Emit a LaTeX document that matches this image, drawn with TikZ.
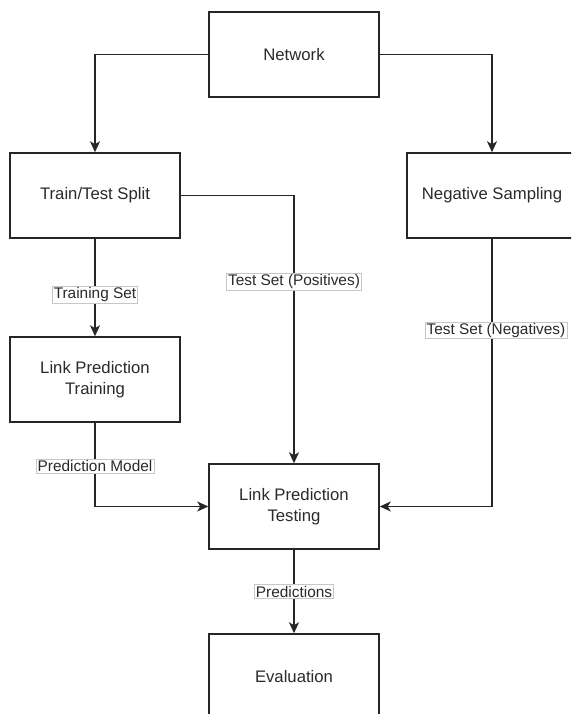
\documentclass[tikz,border=0pt]{standalone}
\usepackage{fontspec}
\setmainfont{Liberation Sans}
\usetikzlibrary{arrows.meta}
\definecolor{linec}{HTML}{262626}
\definecolor{textc}{HTML}{2A2A2A}
\tikzset{
  box/.style={draw=linec, line width=1.5pt, fill=white, minimum width=170pt, minimum height=85pt,
    inner sep=0pt, align=center, text=textc, font=\fontsize{16.7}{21}\selectfont},
  lbl/.style={draw=black!22, line width=0.6pt, fill=white, inner xsep=1.5pt, inner ysep=1.2pt,
    text=textc, font=\fontsize{15.4}{18}\selectfont},
  arr/.style={draw=linec, line width=1.5pt, -{Stealth[length=11pt, width=10pt, inset=3pt]}},
}
\begin{document}
\begin{tikzpicture}[x=1pt, y=-1pt]
\clip (0,0) rectangle (571,714);
\fill[white] (0,0) rectangle (571,714);
\node[box] (net) at (294,54.5) {Network};
\node[box] (tts) at (95,195.5) {Train/Test Split};
\node[box] (neg) at (492,195.5) {Negative Sampling};
\node[box] (lpt) at (95,379.5) {Link Prediction\\Training};
\node[box] (lptest) at (294,506.5) {Link Prediction\\Testing};
\node[box] (eval) at (294,676.5) {Evaluation};
\draw[arr] (net.west) -| (tts.north);
\draw[arr] (net.east) -| (neg.north);
\draw[arr] (tts.east) -| node[lbl, pos=0.661] (lpos) {Test Set (Positives)} (lptest.north);
\draw[arr] (tts.south) -- node[lbl, pos=0.576] (ltrain) {Training Set} (lpt.north);
\draw[arr] (neg.south) |- node[lbl, pos=0.171, xshift=4pt] (lneg) {Test Set (Negatives)} (lptest.east);
\draw[arr] (lpt.south) |- node[lbl, pos=0.26] (lmodel) {Prediction Model} (lptest.west);
\draw[arr] (lptest.south) -- node[lbl, pos=0.5] (lpred) {Predictions} (eval.north);
\end{tikzpicture}
\end{document}
